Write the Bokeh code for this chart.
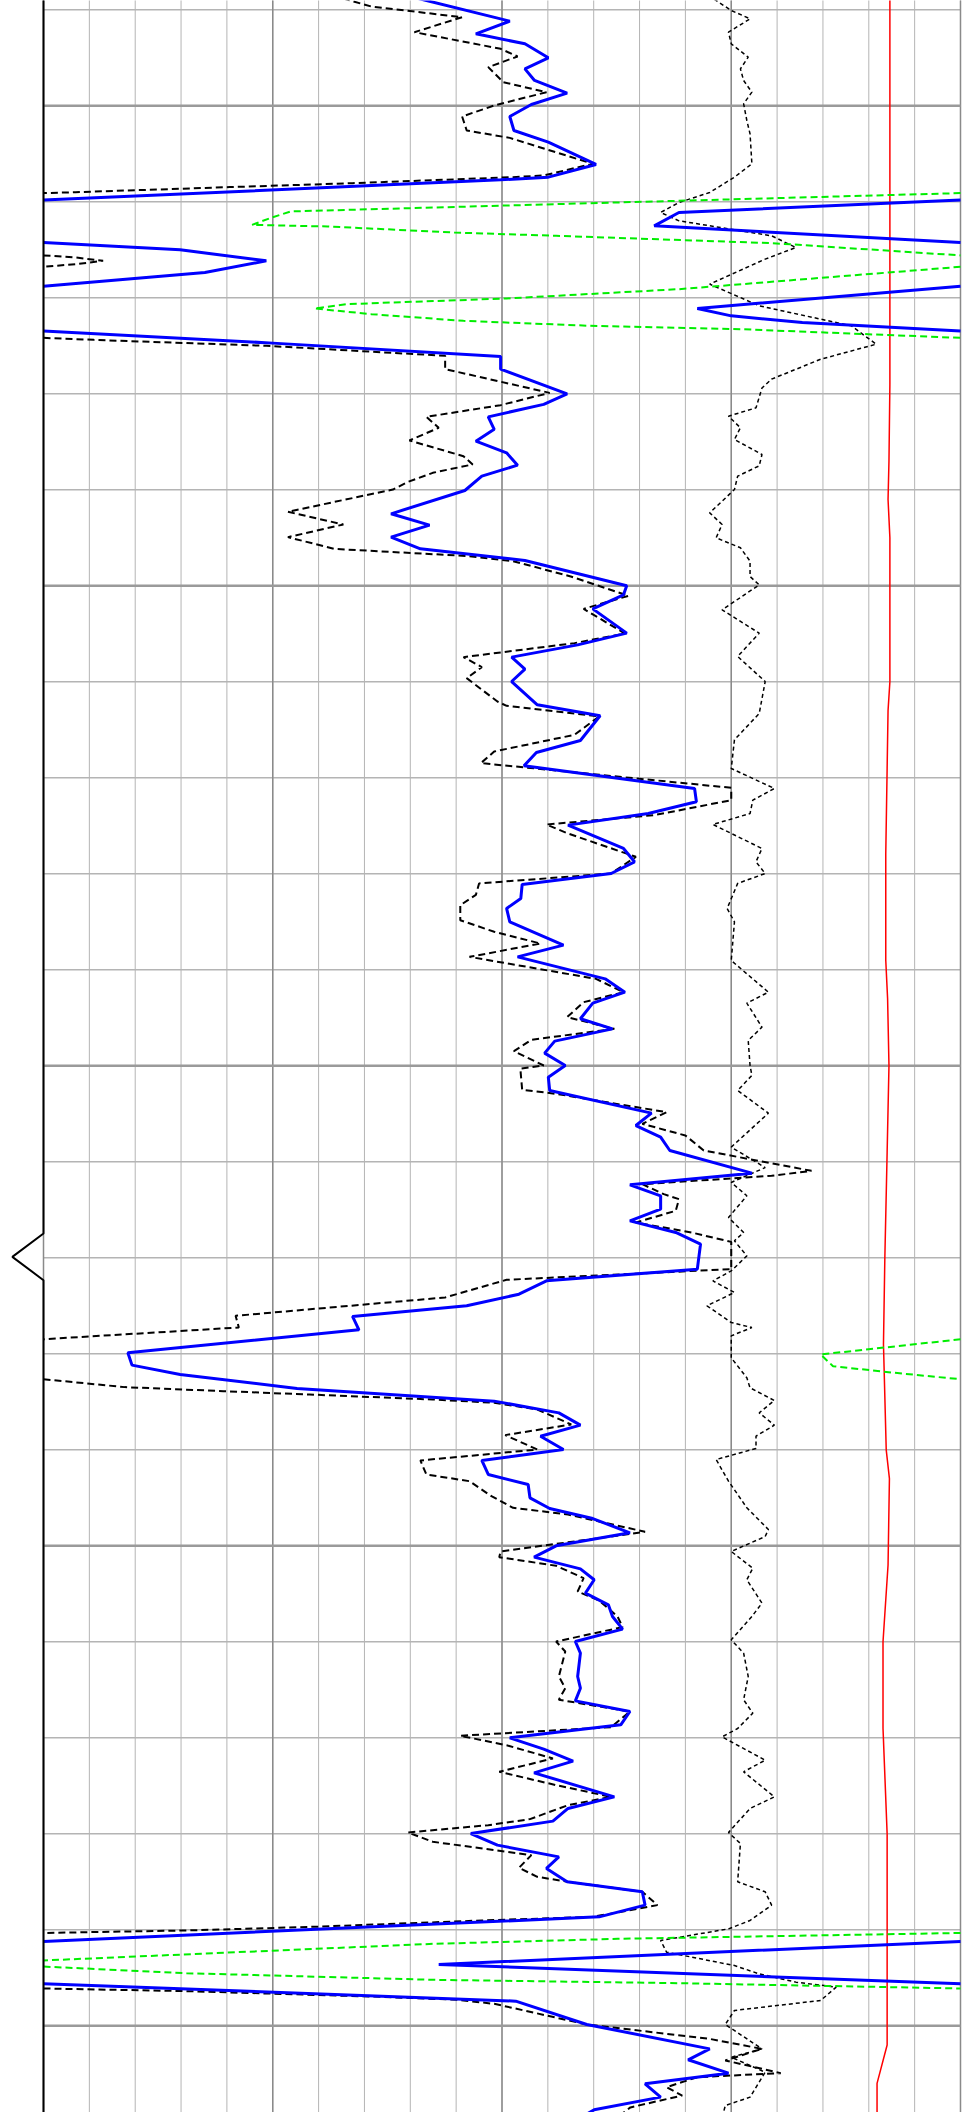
import math
from bokeh.plotting import figure
from bokeh.models import Range1d
from bokeh.embed import file_html
from bokeh.resources import INLINE

# ---------------- data (depth in ft, values in track units 0..200) ----------------
blue_depth = [1488.5, 1491.18, 1492.50, 1493.54, 1495.00, 1496.15, 1497.36, 1498.68, 1499.86, 1501.11,
              1502.57, 1503.79, 1506.11, 1507.43, 1507.71, 1511.11, 1512.50, 1515.00, 1516.15, 1517.36,
              1521.11, 1521.88, 1522.57, 1524.72, 1526.11, 1527.43, 1530.00, 1531.10, 1532.40, 1533.70,
              1534.93, 1536.15, 1537.43, 1538.58, 1540.07, 1542.50, 1543.68, 1544.93, 1546.15, 1547.36,
              1550.00, 1550.94, 1552.40, 1554.93, 1556.15, 1557.43, 1558.68, 1559.97, 1562.40, 1563.54,
              1566.11, 1567.36, 1568.75, 1571.11, 1572.50, 1573.72, 1574.93, 1577.36, 1578.75, 1579.97,
              1581.11, 1582.57, 1583.61, 1585.00, 1587.43, 1588.65, 1590.94, 1592.33, 1593.47, 1595.10,
              1596.15, 1597.43, 1598.68, 1599.97, 1601.18, 1602.57, 1604.93, 1606.22, 1607.43, 1608.82,
              1611.18, 1612.40, 1613.54, 1614.93, 1616.15, 1617.36, 1618.58, 1621.18, 1622.40, 1623.79,
              1625.00, 1626.11, 1627.50, 1629.90, 1631.18, 1632.15, 1633.61, 1634.93, 1636.15, 1637.43,
              1638.58, 1639.97, 1641.11, 1642.57, 1643.61, 1645.00, 1646.11, 1647.16, 1648.65, 1650.00,
              1651.18, 1652.40, 1653.54, 1654.93, 1656.15, 1657.36, 1658.68, 1659.97, 1661.18, 1663.61,
              1664.83, 1666.15, 1667.26, 1668.65, 1670.00, 1671.18, 1672.43, 1673.65, 1676.15, 1677.36,
              1678.68, 1679.97, 1681.18, 1682.40, 1683.61, 1685.00, 1686.04, 1687.43, 1688.65, 1693.61,
              1697.43, 1699.86, 1702.40, 1703.54, 1704.93, 1706.04, 1707.43, 1708.75, 1709.60]
blue_val = [79.0, 101.7, 94.3, 105.0, 110.1, 105.0, 107.1, 114.2, 106.4, 101.7,
            102.6, 110.1, 120.5, 110.1, 99.7, -61.4, -66.8, 29.8, 48.6, 35.2,
            -57.4, -50.0, -34.5, 50.0, 99.7, 99.7, 114.2, 109.1, 97.0, 98.3,
            94.3, 101.0, 103.4, 95.6, 91.9, 75.8, 84.2, 75.8, 82.2, 105.0,
            127.2, 126.5, 119.8, 127.2, 116.5, 102.1, 105.0, 102.1, 107.7, 121.4,
            117.1, 107.5, 104.8, 142.0, 142.4, 131.9, 114.4, 126.5, 128.9, 123.8,
            104.4, 104.1, 101.0, 101.7, 113.4, 103.4, 122.5, 126.8, 119.8, 117.1,
            124.1, 111.5, 109.3, 113.8, 110.1, 110.4, 132.6, 129.2, 134.6, 136.6,
            154.5, 127.9, 134.6, 134.6, 127.9, 137.9, 143.3, 142.6, 109.7, 103.7,
            92.3, 67.4, 68.8, 18.4, 19.3, 29.8, 55.3, 98.3, 112.4, 117.1,
            108.4, 113.4, 95.6, 97.0, 105.7, 106.1, 110.4, 119.8, 127.9, 111.8,
            107.0, 117.1, 120.1, 118.2, 123.2, 124.1, 126.3, 116.0, 117.1, 116.5,
            117.1, 116.0, 127.9, 125.9, 101.7, 109.1, 115.5, 107.0, 124.5, 114.4,
            111.1, 93.2, 99.0, 112.4, 109.7, 114.2, 130.6, 131.2, 121.2, -113.8,
            103.0, 118.5, 145.3, 140.6, 149.4, 131.2, 134.6, 120.1, 117.0]

near_depth = [1488.5, 1489.66, 1490.77, 1492.33, 1494.06, 1494.86, 1495.97, 1497.54, 1498.58, 1499.97,
              1501.11, 1502.57, 1503.34, 1506.04, 1507.26, 1507.43, 1508.06, 1508.47, 1509.00, 1511.00,
              1511.60, 1512.40, 1512.57, 1513.20, 1513.54, 1514.30, 1515.80, 1516.15, 1516.50, 1519.10,
              1520.07, 1520.66, 1521.11, 1521.70, 1522.40, 1522.90, 1523.27, 1524.38, 1525.00, 1526.04,
              1527.43, 1529.90, 1531.18, 1532.40, 1533.54, 1534.86, 1536.50, 1537.36, 1538.23, 1539.17,
              1539.97, 1542.29, 1543.61, 1544.93, 1546.15, 1546.91, 1547.43, 1549.03, 1551.04, 1552.40,
              1554.97, 1555.97, 1557.43, 1558.47, 1559.62, 1562.05, 1562.50, 1563.61, 1565.52, 1567.26,
              1568.47, 1571.04, 1572.33, 1573.89, 1574.86, 1575.80, 1578.23, 1579.97, 1581.00, 1582.20,
              1583.27, 1584.83, 1586.04, 1587.26, 1588.65, 1590.94, 1592.33, 1593.37, 1594.93, 1596.15,
              1597.29, 1598.47, 1599.97, 1600.30, 1602.50, 1602.92, 1604.83, 1606.04, 1607.26, 1608.82,
              1610.94, 1611.46, 1612.33, 1613.37, 1613.89, 1615.10, 1616.32, 1617.36, 1618.34, 1621.18,
              1622.29, 1624.13, 1626.04, 1627.26, 1628.47, 1630.07, 1631.29, 1631.98, 1633.47, 1633.89,
              1634.24, 1634.76, 1635.10, 1635.80, 1637.36, 1638.47, 1639.97, 1641.11, 1642.57, 1643.27,
              1644.83, 1646.04, 1646.74, 1648.54, 1650.59, 1651.18, 1652.08, 1653.37, 1654.76, 1655.70,
              1657.36, 1658.47, 1659.97, 1661.01, 1663.61, 1664.83, 1666.04, 1667.26, 1668.89, 1669.79,
              1670.77, 1672.15, 1673.54, 1674.93, 1676.15, 1677.02, 1678.47, 1679.10, 1679.86, 1680.83,
              1682.22, 1683.54, 1684.48, 1685.00, 1686.04, 1687.43, 1688.65, 1689.03, 1689.66, 1690.07,
              1690.94, 1691.46, 1693.50, 1694.52, 1695.21, 1695.56, 1696.39, 1696.95, 1697.29, 1697.71,
              1699.86, 1701.36, 1702.40, 1703.61, 1704.93, 1705.35, 1706.39, 1707.26, 1708.50, 1709.60]
near_val = [63.0, 71.5, 91.3, 80.9, 99.7, 103.4, 97.0, 100.3, 109.7, 98.3,
            91.3, 92.3, 101.7, 119.8, 109.1, 102.4, 67.4, 40.6, 7.0, -146.0,
            -150.0, -154.5, -138.0, -110.4, -88.2, -41.2, 7.0, 13.0, 7.0, -61.4,
            -99.0, -133.9, -140.9, -128.5, -108.4, -81.5, -47.9, 11.0, 48.6, 87.6,
            87.6, 110.4, 99.7, 83.5, 86.2, 79.8, 91.6, 93.6, 84.9, 79.5,
            76.2, 53.3, 65.4, 53.3, 63.4, 92.9, 102.4, 115.0, 127.6, 117.8,
            126.8, 115.8, 91.6, 95.6, 92.3, 99.0, 101.0, 121.2, 115.8, 98.3,
            95.4, 150.0, 150.0, 133.2, 109.7, 114.4, 129.2, 123.8, 95.0, 94.3,
            90.9, 90.9, 98.3, 108.4, 92.9, 120.5, 126.5, 117.8, 114.2, 124.5,
            106.4, 102.6, 109.1, 104.0, 104.4, 111.8, 135.9, 130.6, 140.0, 144.0,
            167.5, 158.8, 130.6, 135.3, 138.6, 137.9, 129.2, 141.3, 150.0, 150.0,
            101.0, 87.6, 41.9, 42.6, 0.3, -30.5, -27.8, -14.4, 17.7, 39.2,
            58.0, 84.9, 98.3, 107.7, 115.1, 100.7, 107.7, 82.2, 83.5, 92.9,
            97.7, 102.4, 114.4, 131.2, 99.7, 99.4, 111.8, 117.8, 116.5, 121.2,
            125.2, 126.3, 111.8, 113.8, 112.4, 113.8, 112.4, 127.9, 123.8, 90.9,
            101.0, 111.1, 99.4, 111.8, 123.8, 114.4, 106.1, 97.0, 79.5, 84.9,
            106.4, 103.7, 107.7, 114.4, 130.6, 133.9, 119.8, 95.6, 60.7, 31.2,
            -74.8, -115.1, -215.0, -168.8, -115.1, -61.4, 31.2, 71.5, 90.3, 98.3,
            118.5, 145.3, 156.7, 148.7, 160.8, 142.6, 135.9, 139.3, 128.0, 125.0]

far_depth = [1488.5, 1490.07, 1490.94, 1492.33, 1493.54, 1494.93, 1496.15, 1497.36, 1498.58, 1499.79,
             1501.53, 1502.92, 1506.04, 1507.43, 1509.03, 1510.07, 1511.11, 1511.98, 1513.54, 1514.76,
             1515.97, 1518.58, 1520.83, 1522.92, 1524.83, 1526.40, 1528.47, 1529.40, 1531.46, 1532.33,
             1533.54, 1534.76, 1536.32, 1537.50, 1538.58, 1539.97, 1542.40, 1543.61, 1545.00, 1546.04,
             1547.43, 1549.03, 1549.90, 1552.50, 1554.93, 1557.36, 1559.97, 1563.30, 1566.04, 1569.03,
             1571.11, 1572.33, 1573.72, 1574.86, 1577.36, 1578.75, 1579.97, 1581.00, 1583.61, 1585.00,
             1589.03, 1592.33, 1593.47, 1595.97, 1597.36, 1599.97, 1601.00, 1602.57, 1604.93, 1608.47,
             1610.60, 1612.15, 1613.54, 1615.80, 1617.36, 1618.23, 1619.80, 1621.36, 1622.40, 1623.61,
             1625.00, 1626.74, 1627.26, 1628.13, 1630.42, 1632.50, 1633.54, 1634.86, 1636.15, 1637.43,
             1638.58, 1639.86, 1641.01, 1643.27, 1646.04, 1648.30, 1649.03, 1650.59, 1652.33, 1653.54,
             1655.97, 1657.36, 1659.79, 1661.18, 1663.61, 1666.04, 1667.43, 1669.03, 1669.90, 1672.33,
             1673.54, 1676.15, 1677.36, 1679.86, 1681.01, 1685.00, 1686.04, 1687.43, 1689.03, 1689.90,
             1691.11, 1692.33, 1693.72, 1694.59, 1695.45, 1695.97, 1697.36, 1698.40, 1699.86, 1702.40,
             1703.27, 1704.83, 1707.43, 1708.30, 1709.60]
far_val = [145.0, 150.0, 154.1, 149.4, 150.0, 153.7, 152.0, 152.7, 154.5, 152.7,
           153.4, 154.1, 154.5, 150.7, 145.3, 138.6, 134.6, 138.6, 158.8, 164.1,
           157.4, 145.3, 156.1, 176.2, 181.6, 169.5, 158.8, 156.7, 155.4, 149.4,
           152.0, 150.7, 156.7, 156.1, 151.4, 150.7, 145.3, 148.0, 146.7, 152.0,
           154.1, 154.1, 156.1, 148.0, 156.1, 151.4, 157.4, 156.1, 150.7, 150.0,
           159.4, 154.7, 154.1, 146.0, 156.7, 155.4, 157.4, 151.4, 149.1, 150.7,
           150.0, 158.1, 153.4, 156.7, 153.7, 154.1, 154.5, 151.4, 158.1, 150.0,
           157.4, 150.0, 153.4, 149.4, 152.7, 150.7, 153.4, 150.0, 146.0, 150.7,
           144.7, 150.0, 154.5, 150.0, 150.0, 153.4, 154.1, 159.4, 156.1, 159.4,
           155.4, 155.4, 146.7, 149.4, 153.4, 158.1, 157.4, 150.0, 154.7, 153.4,
           156.7, 154.5, 150.0, 152.7, 153.7, 152.7, 154.7, 151.4, 148.0, 157.4,
           152.7, 159.4, 154.1, 149.4, 152.0, 151.4, 157.4, 158.8, 154.1, 149.4,
           134.6, 135.9, 150.7, 156.1, 164.1, 172.9, 169.5, 150.7, 148.7, 156.7,
           150.0, 157.4, 154.1, 148.7, 148.0]

red_depth = [1488.5, 1509.0, 1529.0, 1537.0, 1541.0, 1545.0, 1560.0, 1563.0, 1569.0, 1578.0,
             1589.0, 1593.0, 1600.0, 1609.0, 1620.0, 1629.0, 1640.0, 1643.0, 1652.0, 1660.0,
             1669.0, 1680.0, 1689.0, 1702.0, 1706.0, 1709.6]
red_val = [184.6, 184.6, 184.6, 184.4, 184.2, 184.6, 184.6, 184.2, 184.0, 183.7,
           183.7, 184.1, 184.4, 184.0, 183.5, 183.2, 183.8, 184.5, 184.2, 183.1,
           183.1, 184.0, 184.0, 184.0, 181.8, 181.8]

marker_depth = 1619.9

x_minor_ticks = list(range(0, 201, 10))
x_major_ticks = list(range(0, 201, 50))
y_minor_ticks = list(range(1490, 1710, 10))
y_major_ticks = list(range(1500, 1710, 50))

TRACK_LEFT, TRACK_RIGHT = 0, 200   # track limits; backup curves wrap by one track width
TRACK_WIDTH = TRACK_RIGHT - TRACK_LEFT
TOP, BOTTOM = 1489.03, 1709.03
X_START, X_END = -9.38, 202.4


def clip_track(xs, ys, lo=TRACK_LEFT, hi=TRACK_RIGHT):
    """Clip a polyline to the track limits; gaps become NaN breaks."""
    ox, oy = [], []
    prev_full_end = False
    for i in range(len(xs) - 1):
        x0, y0, x1, y1 = xs[i], ys[i], xs[i + 1], ys[i + 1]
        dx, dy = x1 - x0, y1 - y0
        t0, t1 = 0.0, 1.0
        if dx == 0:
            if x0 < lo or x0 > hi:
                prev_full_end = False
                continue
        else:
            ta, tb = (lo - x0) / dx, (hi - x0) / dx
            t0, t1 = max(t0, min(ta, tb)), min(t1, max(ta, tb))
            if t0 > t1:
                prev_full_end = False
                continue
        if not (prev_full_end and t0 == 0.0):
            if ox:
                ox.append(math.nan)
                oy.append(math.nan)
            ox.append(x0 + t0 * dx)
            oy.append(y0 + t0 * dy)
        ox.append(x0 + t1 * dx)
        oy.append(y0 + t1 * dy)
        prev_full_end = (t1 == 1.0)
    return ox, oy


# ---------------- figure ----------------
p = figure(width=971, height=2112,
           x_range=Range1d(X_START, X_END), y_range=Range1d(BOTTOM, TOP),
           output_backend="svg", toolbar_location=None,
           x_axis_location=None, y_axis_location=None, min_border=0)
p.outline_line_color = None
p.background_fill_color = "white"
p.border_fill_color = "white"
p.grid.grid_line_color = None   # default grids off; track grid drawn below


def vgrid(ticks, color, width):
    p.multi_line([[t, t] for t in ticks], [[TOP - 1, BOTTOM + 1] for _ in ticks],
                 line_color=color, line_width=width)


def hgrid(ticks, color, width):
    p.multi_line([[TRACK_LEFT, TRACK_RIGHT] for _ in ticks], [[t, t] for t in ticks],
                 line_color=color, line_width=width)


vgrid(x_minor_ticks, "#b4b4b4", 1)
hgrid(y_minor_ticks, "#b4b4b4", 1.5)
vgrid(x_major_ticks, "#8a8a8a", 1.5)
hgrid(y_major_ticks, "#9a9a9a", 2.5)


def curve(vals, depths, shift=0, **style):
    xs, ys = clip_track([v + shift for v in vals], depths)
    p.line(xs, ys, **style)


# red curve
curve(red_val, red_depth, line_color="#ff0000", line_width=1.5)
# far dashed black curve
curve(far_val, far_depth, line_color="black", line_width=1.5, line_dash="4 3")
# near dashed curve and its green backup
curve(near_val, near_depth, TRACK_WIDTH, line_color="#00ee00", line_width=2, line_dash="7 4")
curve(near_val, near_depth, line_color="black", line_width=2, line_dash="7 4")
# blue curve and its backup
curve(blue_val, blue_depth, TRACK_WIDTH, line_color="#0000ff", line_width=3)
curve(blue_val, blue_depth, line_color="#0000ff", line_width=3)

# track border with depth marker notch
half, tip = 2.43, -6.8
p.line([TRACK_LEFT, TRACK_LEFT, tip, TRACK_LEFT, TRACK_LEFT],
       [TOP - 1, marker_depth - half, marker_depth, marker_depth + half, BOTTOM + 1],
       line_color="black", line_width=2)

open("out.html", "w").write(file_html(p, INLINE))
